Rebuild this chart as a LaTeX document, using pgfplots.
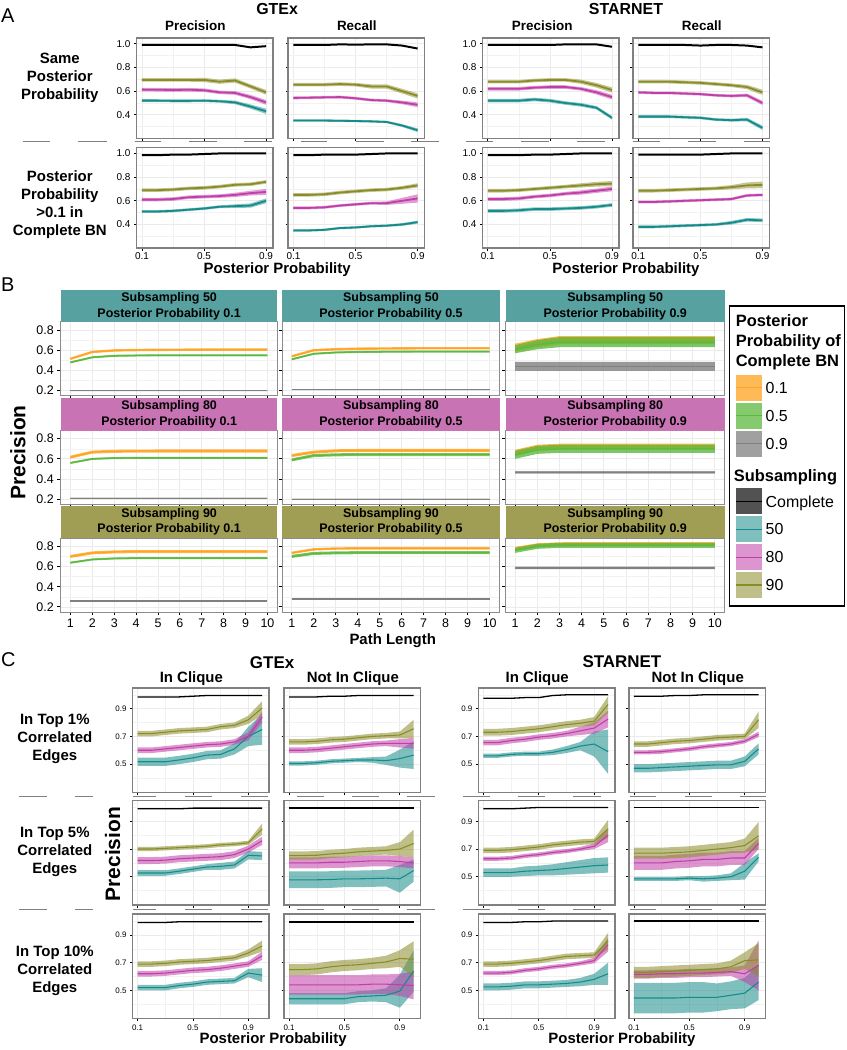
\documentclass[border=0pt]{standalone}
\usepackage{pgfplots}
\pgfplotsset{compat=1.18}
\usepackage{pgfplotstable}
\usepgfplotslibrary{fillbetween}
\usepackage{fontspec}
\setmainfont{Liberation Sans}
\setsansfont{Liberation Sans}
\newcommand\fsz[2]{\fontsize{#1pt}{#2pt}\selectfont}
\definecolor{cT}{RGB}{22,140,138}
\definecolor{cM}{RGB}{192,62,168}
\definecolor{cO}{RGB}{138,140,40}
\definecolor{cOr}{RGB}{255,163,32}
\definecolor{cG}{RGB}{92,184,62}
\definecolor{cGr}{RGB}{128,128,128}
\definecolor{sT}{RGB}{87,162,160}
\definecolor{sM}{RGB}{200,115,180}
\definecolor{sO}{RGB}{160,158,85}
\def\ribop{0.5}
\def\linelayer{main}
\newcommand\ribbonplot[5]{%
 \addplot[draw=none, no markers, name path=U#2, forget plot] table[x=x, y expr=\thisrow{#2}+\thisrow{#3}] {#1};
 \addplot[draw=none, no markers, name path=L#2, forget plot] table[x=x, y expr=\thisrow{#2}-\thisrow{#3}] {#1};
 \addplot[fill=#4, fill opacity=\ribop, draw=none, forget plot] fill between[of=U#2 and L#2];
 \addplot[draw=#4, no markers, line width=#5, forget plot, on layer=\linelayer] table[x=x, y=#2] {#1};
}
\newcommand\panelAC[3]{%
 \ribbonplot{#1}{t}{te}{cT}{#2}
 \ribbonplot{#1}{m}{me}{cM}{#2}
 \ribbonplot{#1}{o}{oe}{cO}{#2}
 \addplot[draw=black, no markers, line width=#3, forget plot] table[x=x, y=k] {#1};
}
\newcommand\panelB[1]{%
 \ribbonplot{#1}{o}{oe}{cOr}{1.3pt}
 \ribbonplot{#1}{g}{ge}{cG}{1.3pt}
 \ribbonplot{#1}{r}{re}{cGr}{1.5pt}
}
% ---------------- Panel A data ----------------
\pgfplotstableread{
x k t te m me o oe
0.1 0.990 0.520 0.012 0.613 0.015 0.695 0.015
0.2 0.990 0.520 0.012 0.612 0.015 0.695 0.015
0.3 0.990 0.518 0.012 0.610 0.015 0.695 0.015
0.4 0.990 0.518 0.012 0.612 0.015 0.695 0.015
0.5 0.990 0.520 0.012 0.608 0.015 0.695 0.018
0.6 0.990 0.515 0.012 0.590 0.015 0.680 0.018
0.7 0.990 0.505 0.015 0.585 0.015 0.690 0.018
0.8 0.970 0.470 0.018 0.550 0.018 0.640 0.018
0.9 0.980 0.430 0.022 0.505 0.020 0.590 0.020
}\AGPa
\pgfplotstableread{
x k t te m me o oe
0.1 0.990 0.352 0.010 0.543 0.012 0.655 0.015
0.2 0.990 0.352 0.010 0.545 0.012 0.655 0.015
0.3 0.990 0.352 0.010 0.548 0.012 0.655 0.015
0.4 0.995 0.350 0.010 0.550 0.012 0.660 0.015
0.5 0.993 0.348 0.010 0.540 0.012 0.655 0.015
0.6 0.995 0.345 0.010 0.525 0.012 0.640 0.018
0.7 0.995 0.340 0.010 0.520 0.012 0.640 0.018
0.8 0.985 0.310 0.012 0.505 0.015 0.600 0.020
0.9 0.960 0.270 0.015 0.485 0.020 0.560 0.022
}\AGRa
\pgfplotstableread{
x k t te m me o oe
0.1 0.985 0.510 0.012 0.610 0.015 0.690 0.015
0.2 0.985 0.510 0.012 0.610 0.015 0.690 0.015
0.3 0.990 0.515 0.012 0.615 0.015 0.695 0.015
0.4 0.990 0.525 0.012 0.630 0.015 0.705 0.015
0.5 0.995 0.535 0.012 0.635 0.015 0.710 0.015
0.6 1.000 0.550 0.012 0.640 0.015 0.720 0.015
0.7 1.000 0.555 0.015 0.650 0.018 0.735 0.015
0.8 1.000 0.560 0.018 0.665 0.020 0.740 0.015
0.9 1.000 0.600 0.020 0.675 0.025 0.760 0.015
}\AGPb
\pgfplotstableread{
x k t te m me o oe
0.1 0.985 0.350 0.010 0.540 0.012 0.650 0.015
0.2 0.985 0.350 0.010 0.540 0.012 0.650 0.015
0.3 0.990 0.355 0.010 0.545 0.012 0.655 0.015
0.4 0.990 0.370 0.010 0.560 0.012 0.670 0.015
0.5 0.990 0.375 0.010 0.570 0.012 0.680 0.015
0.6 0.995 0.385 0.010 0.580 0.012 0.690 0.015
0.7 1.000 0.390 0.010 0.580 0.015 0.695 0.015
0.8 1.000 0.400 0.012 0.600 0.025 0.710 0.015
0.9 1.000 0.420 0.012 0.620 0.035 0.730 0.018
}\AGRb
\pgfplotstableread{
x k t te m me o oe
0.1 0.990 0.520 0.015 0.620 0.015 0.680 0.015
0.2 0.990 0.520 0.015 0.620 0.015 0.680 0.015
0.3 0.990 0.520 0.015 0.620 0.015 0.680 0.015
0.4 0.990 0.530 0.015 0.630 0.015 0.690 0.015
0.5 0.990 0.520 0.015 0.635 0.015 0.695 0.015
0.6 0.995 0.500 0.015 0.635 0.015 0.695 0.015
0.7 0.995 0.485 0.015 0.620 0.015 0.680 0.018
0.8 0.995 0.460 0.015 0.590 0.018 0.650 0.020
0.9 0.975 0.375 0.015 0.550 0.020 0.610 0.022
}\ASPa
\pgfplotstableread{
x k t te m me o oe
0.1 0.990 0.385 0.012 0.590 0.012 0.680 0.015
0.2 0.990 0.385 0.012 0.585 0.012 0.680 0.015
0.3 0.990 0.385 0.012 0.585 0.012 0.680 0.015
0.4 0.990 0.380 0.012 0.580 0.012 0.675 0.015
0.5 0.985 0.375 0.012 0.575 0.012 0.670 0.015
0.6 0.990 0.360 0.012 0.565 0.012 0.660 0.015
0.7 0.990 0.355 0.012 0.560 0.012 0.650 0.015
0.8 0.985 0.360 0.015 0.565 0.015 0.635 0.018
0.9 0.970 0.290 0.018 0.500 0.018 0.590 0.022
}\ASRa
\pgfplotstableread{
x k t te m me o oe
0.1 0.985 0.515 0.015 0.615 0.015 0.685 0.015
0.2 0.985 0.515 0.015 0.615 0.015 0.685 0.015
0.3 0.985 0.520 0.015 0.620 0.015 0.690 0.015
0.4 0.990 0.530 0.015 0.635 0.015 0.700 0.015
0.5 0.990 0.530 0.015 0.645 0.015 0.710 0.015
0.6 0.995 0.535 0.015 0.660 0.015 0.720 0.015
0.7 1.000 0.540 0.015 0.670 0.018 0.730 0.018
0.8 1.000 0.550 0.015 0.685 0.018 0.740 0.020
0.9 1.000 0.565 0.015 0.700 0.020 0.745 0.022
}\ASPb
\pgfplotstableread{
x k t te m me o oe
0.1 0.990 0.380 0.012 0.590 0.012 0.685 0.015
0.2 0.990 0.380 0.012 0.590 0.012 0.685 0.015
0.3 0.990 0.385 0.012 0.595 0.012 0.690 0.015
0.4 0.990 0.390 0.012 0.600 0.012 0.695 0.015
0.5 0.990 0.395 0.012 0.605 0.012 0.700 0.015
0.6 0.995 0.400 0.012 0.610 0.012 0.705 0.015
0.7 1.000 0.415 0.015 0.615 0.012 0.715 0.018
0.8 1.000 0.440 0.015 0.645 0.012 0.730 0.025
0.9 1.000 0.435 0.015 0.650 0.012 0.735 0.028
}\ASRb
% ---------------- Panel B data ----------------
\pgfplotstableread{
x o oe g ge r re
1 0.515 0.012 0.480 0.010 0.200 0.005
2 0.583 0.012 0.530 0.010 0.200 0.005
3 0.598 0.012 0.545 0.010 0.200 0.005
4 0.602 0.012 0.548 0.010 0.200 0.005
5 0.604 0.012 0.550 0.010 0.200 0.005
6 0.605 0.012 0.550 0.010 0.200 0.005
7 0.606 0.012 0.550 0.010 0.200 0.005
8 0.606 0.012 0.550 0.010 0.200 0.005
9 0.606 0.012 0.550 0.010 0.200 0.005
10 0.606 0.012 0.550 0.010 0.200 0.005
}\BAA
\pgfplotstableread{
x o oe g ge r re
1 0.540 0.012 0.510 0.010 0.210 0.005
2 0.600 0.012 0.565 0.010 0.210 0.005
3 0.610 0.012 0.578 0.010 0.210 0.005
4 0.615 0.012 0.583 0.010 0.210 0.005
5 0.617 0.012 0.585 0.010 0.210 0.005
6 0.618 0.012 0.586 0.010 0.210 0.005
7 0.620 0.012 0.587 0.010 0.210 0.005
8 0.620 0.012 0.587 0.010 0.210 0.005
9 0.620 0.012 0.587 0.010 0.210 0.005
10 0.620 0.012 0.587 0.010 0.210 0.005
}\BAB
\pgfplotstableread{
x o oe g ge r re
1 0.625 0.040 0.610 0.040 0.440 0.045
2 0.670 0.040 0.655 0.045 0.440 0.045
3 0.700 0.040 0.680 0.050 0.440 0.045
4 0.700 0.040 0.680 0.050 0.440 0.045
5 0.700 0.040 0.680 0.050 0.440 0.045
6 0.700 0.040 0.680 0.050 0.440 0.045
7 0.700 0.040 0.680 0.050 0.440 0.045
8 0.700 0.040 0.680 0.050 0.440 0.045
9 0.700 0.040 0.680 0.050 0.440 0.045
10 0.700 0.040 0.680 0.050 0.440 0.045
}\BAC
\pgfplotstableread{
x o oe g ge r re
1 0.617 0.015 0.560 0.010 0.210 0.006
2 0.667 0.015 0.600 0.010 0.210 0.006
3 0.675 0.015 0.608 0.010 0.210 0.006
4 0.677 0.015 0.610 0.010 0.210 0.006
5 0.678 0.015 0.610 0.010 0.210 0.006
6 0.678 0.015 0.610 0.010 0.210 0.006
7 0.678 0.015 0.610 0.010 0.210 0.006
8 0.678 0.015 0.610 0.010 0.210 0.006
9 0.678 0.015 0.610 0.010 0.210 0.006
10 0.678 0.015 0.610 0.010 0.210 0.006
}\BBA
\pgfplotstableread{
x o oe g ge r re
1 0.633 0.015 0.590 0.015 0.200 0.006
2 0.667 0.015 0.633 0.015 0.200 0.006
3 0.680 0.015 0.640 0.015 0.200 0.006
4 0.683 0.015 0.643 0.015 0.200 0.006
5 0.683 0.015 0.643 0.015 0.200 0.006
6 0.683 0.015 0.643 0.015 0.200 0.006
7 0.683 0.015 0.643 0.015 0.200 0.006
8 0.683 0.015 0.643 0.015 0.200 0.006
9 0.683 0.015 0.643 0.015 0.200 0.006
10 0.683 0.015 0.643 0.015 0.200 0.006
}\BBB
\pgfplotstableread{
x o oe g ge r re
1 0.660 0.030 0.640 0.040 0.467 0.012
2 0.710 0.030 0.690 0.040 0.467 0.012
3 0.720 0.030 0.700 0.040 0.467 0.012
4 0.722 0.030 0.700 0.040 0.467 0.012
5 0.722 0.030 0.700 0.040 0.467 0.012
6 0.722 0.030 0.700 0.040 0.467 0.012
7 0.722 0.030 0.700 0.040 0.467 0.012
8 0.722 0.030 0.700 0.040 0.467 0.012
9 0.722 0.030 0.700 0.040 0.467 0.012
10 0.722 0.030 0.700 0.040 0.467 0.012
}\BBC
\pgfplotstableread{
x o oe g ge r re
1 0.700 0.015 0.638 0.010 0.258 0.004
2 0.735 0.015 0.670 0.010 0.258 0.004
3 0.745 0.015 0.680 0.010 0.258 0.004
4 0.748 0.015 0.683 0.010 0.258 0.004
5 0.748 0.015 0.683 0.010 0.258 0.004
6 0.748 0.015 0.683 0.010 0.258 0.004
7 0.748 0.015 0.683 0.010 0.258 0.004
8 0.748 0.015 0.683 0.010 0.258 0.004
9 0.748 0.015 0.683 0.010 0.258 0.004
10 0.748 0.015 0.683 0.010 0.258 0.004
}\BCA
\pgfplotstableread{
x o oe g ge r re
1 0.735 0.012 0.700 0.015 0.280 0.006
2 0.770 0.012 0.730 0.015 0.280 0.006
3 0.778 0.012 0.735 0.015 0.280 0.006
4 0.780 0.012 0.737 0.015 0.280 0.006
5 0.780 0.012 0.737 0.015 0.280 0.006
6 0.780 0.012 0.737 0.015 0.280 0.006
7 0.780 0.012 0.737 0.015 0.280 0.006
8 0.780 0.012 0.737 0.015 0.280 0.006
9 0.780 0.012 0.737 0.015 0.280 0.006
10 0.780 0.012 0.737 0.015 0.280 0.006
}\BCB
\pgfplotstableread{
x o oe g ge r re
1 0.775 0.020 0.760 0.025 0.587 0.012
2 0.810 0.020 0.800 0.025 0.587 0.012
3 0.820 0.020 0.810 0.025 0.587 0.012
4 0.822 0.020 0.810 0.025 0.587 0.012
5 0.822 0.020 0.810 0.025 0.587 0.012
6 0.822 0.020 0.810 0.025 0.587 0.012
7 0.822 0.020 0.810 0.025 0.587 0.012
8 0.822 0.020 0.810 0.025 0.587 0.012
9 0.822 0.020 0.810 0.025 0.587 0.012
10 0.822 0.020 0.810 0.025 0.587 0.012
}\BCC
% ---------------- Panel C data ----------------
\pgfplotstableread{
x k t te m me o oe
0.1 0.985 0.517 0.030 0.600 0.020 0.720 0.020
0.2 0.985 0.517 0.030 0.600 0.020 0.720 0.020
0.3 0.985 0.517 0.030 0.610 0.020 0.730 0.020
0.4 0.985 0.530 0.030 0.620 0.020 0.740 0.020
0.5 0.990 0.545 0.030 0.630 0.020 0.745 0.020
0.6 0.995 0.565 0.030 0.640 0.020 0.750 0.020
0.7 0.995 0.570 0.030 0.645 0.020 0.770 0.020
0.8 0.995 0.610 0.040 0.660 0.020 0.780 0.020
0.9 0.995 0.700 0.070 0.700 0.030 0.820 0.030
1.0 0.995 0.750 0.110 0.840 0.040 0.905 0.050
}\CGAi
\pgfplotstableread{
x k t te m me o oe
0.1 0.985 0.505 0.015 0.600 0.020 0.660 0.020
0.2 0.985 0.505 0.015 0.600 0.020 0.660 0.020
0.3 0.985 0.510 0.015 0.605 0.020 0.665 0.020
0.4 0.990 0.520 0.015 0.615 0.020 0.675 0.020
0.5 0.990 0.525 0.015 0.625 0.020 0.680 0.020
0.6 0.995 0.530 0.015 0.635 0.020 0.690 0.020
0.7 0.995 0.530 0.020 0.645 0.020 0.700 0.020
0.8 0.995 0.525 0.030 0.650 0.020 0.705 0.020
0.9 0.995 0.540 0.065 0.650 0.030 0.710 0.025
1.0 0.995 0.565 0.100 0.650 0.040 0.755 0.065
}\CGAo
\pgfplotstableread{
x k t te m me o oe
0.1 0.990 0.527 0.020 0.617 0.025 0.700 0.015
0.2 0.990 0.527 0.020 0.617 0.025 0.700 0.015
0.3 0.990 0.527 0.020 0.620 0.025 0.705 0.015
0.4 0.990 0.540 0.020 0.630 0.025 0.710 0.015
0.5 0.995 0.555 0.020 0.635 0.025 0.715 0.015
0.6 0.995 0.570 0.020 0.640 0.025 0.720 0.015
0.7 0.995 0.575 0.025 0.645 0.025 0.730 0.015
0.8 0.995 0.585 0.025 0.660 0.025 0.735 0.015
0.9 0.995 0.655 0.030 0.700 0.025 0.745 0.015
1.0 0.995 0.650 0.030 0.760 0.030 0.845 0.040
}\CGBi
\pgfplotstableread{
x k t te m me o oe
0.1 0.995 0.478 0.060 0.600 0.040 0.653 0.030
0.2 0.995 0.478 0.060 0.600 0.040 0.653 0.030
0.3 0.995 0.478 0.060 0.600 0.040 0.655 0.030
0.4 0.995 0.480 0.060 0.605 0.040 0.665 0.030
0.5 0.995 0.485 0.060 0.605 0.040 0.670 0.030
0.6 0.995 0.485 0.060 0.610 0.040 0.680 0.030
0.7 0.995 0.487 0.060 0.615 0.040 0.685 0.030
0.8 0.995 0.490 0.060 0.615 0.040 0.690 0.030
0.9 0.995 0.485 0.100 0.610 0.040 0.700 0.050
1.0 0.995 0.545 0.080 0.600 0.040 0.740 0.100
}\CGBo
\pgfplotstableread{
x k t te m me o oe
0.1 0.990 0.520 0.020 0.620 0.020 0.690 0.020
0.2 0.990 0.520 0.020 0.620 0.020 0.690 0.020
0.3 0.990 0.520 0.020 0.625 0.020 0.695 0.020
0.4 0.995 0.535 0.020 0.635 0.020 0.705 0.020
0.5 0.995 0.545 0.020 0.645 0.020 0.710 0.020
0.6 0.995 0.560 0.020 0.650 0.020 0.715 0.020
0.7 0.995 0.565 0.020 0.660 0.020 0.725 0.020
0.8 0.995 0.570 0.020 0.675 0.020 0.735 0.020
0.9 0.995 0.625 0.030 0.690 0.020 0.770 0.025
1.0 0.995 0.610 0.050 0.750 0.030 0.820 0.040
}\CGCi
\pgfplotstableread{
x k t te m me o oe
0.1 0.995 0.440 0.040 0.540 0.070 0.650 0.040
0.2 0.995 0.440 0.040 0.540 0.070 0.650 0.040
0.3 0.995 0.440 0.040 0.540 0.070 0.655 0.040
0.4 0.995 0.440 0.040 0.540 0.070 0.670 0.040
0.5 0.995 0.440 0.040 0.540 0.070 0.680 0.040
0.6 0.995 0.455 0.040 0.540 0.070 0.685 0.040
0.7 0.995 0.460 0.040 0.545 0.070 0.695 0.040
0.8 0.995 0.465 0.050 0.545 0.070 0.705 0.045
0.9 0.995 0.495 0.120 0.540 0.080 0.730 0.060
1.0 0.995 0.640 0.150 0.535 0.100 0.725 0.130
}\CGCo
\pgfplotstableread{
x k t te m me o oe
0.1 0.975 0.560 0.015 0.655 0.020 0.730 0.025
0.2 0.975 0.560 0.015 0.655 0.020 0.730 0.025
0.3 0.975 0.570 0.015 0.670 0.020 0.735 0.025
0.4 0.980 0.575 0.015 0.680 0.020 0.745 0.025
0.5 0.980 0.575 0.015 0.695 0.020 0.755 0.025
0.6 0.995 0.585 0.020 0.705 0.020 0.770 0.025
0.7 1.000 0.605 0.025 0.720 0.020 0.785 0.025
0.8 1.000 0.630 0.030 0.740 0.030 0.795 0.025
0.9 1.000 0.645 0.090 0.760 0.040 0.810 0.030
1.0 1.000 0.590 0.160 0.825 0.060 0.930 0.060
}\CSAi
\pgfplotstableread{
x k t te m me o oe
0.1 0.990 0.470 0.030 0.585 0.015 0.645 0.020
0.2 0.990 0.470 0.030 0.585 0.015 0.645 0.020
0.3 0.990 0.475 0.030 0.590 0.015 0.655 0.020
0.4 0.995 0.480 0.030 0.600 0.015 0.665 0.020
0.5 0.995 0.485 0.030 0.610 0.015 0.670 0.020
0.6 1.000 0.490 0.030 0.625 0.015 0.680 0.020
0.7 1.000 0.495 0.030 0.635 0.015 0.690 0.020
0.8 1.000 0.495 0.030 0.645 0.015 0.695 0.020
0.9 1.000 0.520 0.035 0.665 0.015 0.700 0.020
1.0 1.000 0.610 0.040 0.715 0.020 0.820 0.060
}\CSAo
\pgfplotstableread{
x k t te m me o oe
0.1 0.990 0.530 0.030 0.630 0.015 0.690 0.020
0.2 0.990 0.530 0.030 0.630 0.015 0.690 0.020
0.3 0.990 0.530 0.030 0.635 0.015 0.695 0.020
0.4 0.995 0.540 0.035 0.650 0.015 0.705 0.020
0.5 1.000 0.545 0.035 0.660 0.015 0.715 0.020
0.6 1.000 0.550 0.040 0.675 0.015 0.730 0.020
0.7 1.000 0.560 0.045 0.685 0.015 0.740 0.020
0.8 1.000 0.570 0.050 0.700 0.015 0.750 0.020
0.9 1.000 0.580 0.055 0.720 0.020 0.755 0.020
1.0 1.000 0.585 0.055 0.800 0.050 0.845 0.065
}\CSBi
\pgfplotstableread{
x k t te m me o oe
0.1 1.000 0.485 0.015 0.600 0.050 0.670 0.040
0.2 1.000 0.485 0.015 0.600 0.050 0.670 0.040
0.3 1.000 0.485 0.015 0.600 0.050 0.670 0.040
0.4 1.000 0.485 0.015 0.610 0.050 0.675 0.040
0.5 1.000 0.490 0.015 0.615 0.050 0.680 0.040
0.6 1.000 0.485 0.020 0.625 0.050 0.690 0.040
0.7 1.000 0.490 0.020 0.625 0.050 0.700 0.040
0.8 1.000 0.500 0.025 0.635 0.050 0.710 0.040
0.9 1.000 0.540 0.060 0.635 0.050 0.725 0.050
1.0 1.000 0.640 0.030 0.740 0.040 0.795 0.100
}\CSBo
\pgfplotstableread{
x k t te m me o oe
0.1 0.990 0.525 0.025 0.625 0.015 0.690 0.020
0.2 0.990 0.525 0.025 0.625 0.015 0.690 0.020
0.3 0.990 0.530 0.025 0.630 0.015 0.695 0.020
0.4 0.995 0.540 0.025 0.645 0.015 0.705 0.020
0.5 0.995 0.540 0.025 0.655 0.015 0.715 0.020
0.6 1.000 0.545 0.025 0.670 0.015 0.730 0.020
0.7 1.000 0.550 0.025 0.680 0.015 0.745 0.020
0.8 1.000 0.560 0.030 0.695 0.015 0.750 0.020
0.9 1.000 0.580 0.040 0.715 0.020 0.755 0.020
1.0 1.000 0.620 0.080 0.830 0.050 0.855 0.060
}\CSCi
\pgfplotstableread{
x k t te m me o oe
0.1 1.000 0.445 0.110 0.615 0.030 0.630 0.040
0.2 1.000 0.445 0.110 0.615 0.030 0.630 0.040
0.3 1.000 0.445 0.110 0.620 0.030 0.635 0.040
0.4 1.000 0.445 0.110 0.620 0.030 0.640 0.040
0.5 1.000 0.450 0.110 0.625 0.030 0.645 0.040
0.6 1.000 0.450 0.110 0.625 0.030 0.650 0.040
0.7 1.000 0.450 0.100 0.630 0.030 0.655 0.040
0.8 1.000 0.465 0.100 0.635 0.030 0.670 0.045
0.9 1.000 0.480 0.110 0.620 0.060 0.715 0.060
1.0 1.000 0.560 0.130 0.680 0.180 0.720 0.120
}\CSCo
\pgfplotsset{
 base/.style={scale only axis, set layers, anchor=north west, tick pos=left, tick align=outside, no markers,
   axis line style={draw=black!50, line width=1.6pt},
   grid=both, major grid style={line width=0.8pt, black!8}, minor grid style={line width=0.5pt, black!5},
   minor tick length=0pt, major tick length=2.5pt, tick style={black, line width=0.8pt}},
 pa/.style={base, width=137pt, height=101pt, xmin=0.065, xmax=0.945, ymin=0.2, ymax=1.05,
   xtick={0.1,0.5,0.9}, xticklabels={0.1,0.5,0.9}, minor xtick={0.3,0.7},
   ytick={0.4,0.6,0.8,1.0}, yticklabels={0.4,0.6,0.8,1.0}, minor ytick={0.3,0.5,0.7,0.9},
   tick label style={font=\fsz{10}{12}}, xticklabel style={inner sep=1.5pt}},
 pb/.style={base, width=218pt, height=74pt, xmin=0.56, xmax=10.44, ymin=0.15, ymax=0.88,
   xtick={1,2,3,4,5,6,7,8,9,10}, xticklabels={1,2,3,4,5,6,7,8,9,10},
   ytick={0.2,0.4,0.6,0.8}, yticklabels={0.2,0.4,0.6,0.8}, minor ytick={0.3,0.5,0.7},
   axis line style={draw=black!45, line width=0.9pt}, major tick length=3.5pt,
   tick style={black, line width=1pt}, tick label style={font=\fsz{12.5}{14}}},
 pc/.style={base, width=137pt, height=105pt, xmin=0.064, xmax=1.05, ymin=0.296, ymax=1.051,
   xtick={0.1,0.5,0.9}, xticklabels={0.1,0.5,0.9}, minor xtick={0.3,0.7},
   ytick={0.5,0.7,0.9}, yticklabels={0.5,0.7,0.9}, minor ytick={0.4,0.6,0.8,1.0},
   tick label style={font=\fsz{8}{10}}},
}
\begin{document}
\begin{tikzpicture}
\path (0pt,0pt) rectangle (849pt,-1050pt);
% ================= Panel A =================
\def\ribop{0.5}
\begin{axis}[pa, at={(137pt,-37pt)}, xticklabels={}] \panelAC{\AGPa}{1.8pt}{2pt} \end{axis}
\begin{axis}[pa, at={(289pt,-37pt)}, xticklabels={}, yticklabels={}] \panelAC{\AGRa}{1.8pt}{2pt} \end{axis}
\begin{axis}[pa, at={(484pt,-37pt)}, xticklabels={}] \panelAC{\ASPa}{1.8pt}{2pt} \end{axis}
\begin{axis}[pa, at={(635pt,-37pt)}, xticklabels={}, yticklabels={}] \panelAC{\ASRa}{1.8pt}{2pt} \end{axis}
\begin{axis}[pa, at={(137pt,-147pt)}] \panelAC{\AGPb}{1.8pt}{2pt} \end{axis}
\begin{axis}[pa, at={(289pt,-147pt)}, yticklabels={}] \panelAC{\AGRb}{1.8pt}{2pt} \end{axis}
\begin{axis}[pa, at={(484pt,-147pt)}] \panelAC{\ASPb}{1.8pt}{2pt} \end{axis}
\begin{axis}[pa, at={(635pt,-147pt)}, yticklabels={}] \panelAC{\ASRb}{1.8pt}{2pt} \end{axis}
\node[font=\fsz{20}{24}, anchor=west, inner sep=0] at (1pt,-15pt) {A};
\node[font=\bfseries\fsz{16}{19}] at (278pt,-8pt) {GTEx};
\node[font=\bfseries\fsz{16}{19}] at (628pt,-8pt) {STARNET};
\node[font=\bfseries\fsz{13.5}{16}] at (196pt,-25pt) {Precision};
\node[font=\bfseries\fsz{13.5}{16}] at (358pt,-25pt) {Recall};
\node[font=\bfseries\fsz{13.5}{16}] at (544pt,-25pt) {Precision};
\node[font=\bfseries\fsz{13.5}{16}] at (704pt,-25pt) {Recall};
\node[font=\bfseries\fsz{15}{18}, align=center] at (60pt,-77pt) {Same\\Posterior\\Probability};
\node[font=\bfseries\fsz{15}{18}, align=center] at (60pt,-204pt) {Posterior\\Probability\\>0.1 in\\Complete BN};
\node[font=\bfseries\fsz{15}{18}, anchor=base] at (278pt,-273pt) {Posterior Probability};
\node[font=\bfseries\fsz{15}{18}, anchor=base] at (628pt,-273pt) {Posterior Probability};
\foreach \a/\b in {23/50,78/107,135/162,190/218,245/273,302/328,357/385,412/440,468/495,523/551,579/607,635/662,690/718,746/773}
  \draw[black!50, line width=1pt] (\a pt,-141pt) -- (\b pt,-141pt);
% ================= Panel B =================
\def\ribop{0.8}
\def\linelayer{pre main}
\begin{axis}[pb, at={(61pt,-322pt)}, width=217pt, xticklabels={}] \panelB{\BAA} \end{axis}
\begin{axis}[pb, at={(283pt,-322pt)}, xticklabels={}, yticklabels={}] \panelB{\BAB} \end{axis}
\begin{axis}[pb, at={(507pt,-322pt)}, width=220pt, xticklabels={}, yticklabels={}] \panelB{\BAC} \end{axis}
\begin{axis}[pb, at={(61pt,-431pt)}, width=217pt, xticklabels={}] \panelB{\BBA} \end{axis}
\begin{axis}[pb, at={(283pt,-431pt)}, xticklabels={}, yticklabels={}] \panelB{\BBB} \end{axis}
\begin{axis}[pb, at={(507pt,-431pt)}, width=220pt, xticklabels={}, yticklabels={}] \panelB{\BBC} \end{axis}
\begin{axis}[pb, at={(61pt,-539pt)}, width=217pt] \panelB{\BCA} \end{axis}
\begin{axis}[pb, at={(283pt,-539pt)}, yticklabels={}] \panelB{\BCB} \end{axis}
\begin{axis}[pb, at={(507pt,-539pt)}, width=220pt, yticklabels={}] \panelB{\BCC} \end{axis}
\def\linelayer{main}
\tikzset{strip/.style={anchor=north west, minimum height=32pt, inner sep=0, align=center, font=\bfseries\fsz{12.5}{15.5}}}
\node[strip, fill=sT, minimum width=217pt] at (61pt,-290pt) {Subsampling 50\\Posterior Probability 0.1};
\node[strip, fill=sT, minimum width=218pt] at (283pt,-290pt) {Subsampling 50\\Posterior Probability 0.5};
\node[strip, fill=sT, minimum width=220pt] at (507pt,-290pt) {Subsampling 50\\Posterior Probability 0.9};
\node[strip, fill=sM, minimum width=217pt, minimum height=33pt] at (61pt,-398pt) {Subsampling 80\\Posterior Proability 0.1};
\node[strip, fill=sM, minimum width=218pt, minimum height=33pt] at (283pt,-398pt) {Subsampling 80\\Posterior Probability 0.5};
\node[strip, fill=sM, minimum width=220pt, minimum height=33pt] at (507pt,-398pt) {Subsampling 80\\Posterior Probability 0.9};
\node[strip, fill=sO, minimum width=217pt, minimum height=33pt] at (61pt,-506pt) {Subsampling 90\\Posterior Probability 0.1};
\node[strip, fill=sO, minimum width=218pt, minimum height=33pt] at (283pt,-506pt) {Subsampling 90\\Posterior Probability 0.5};
\node[strip, fill=sO, minimum width=220pt, minimum height=33pt] at (507pt,-506pt) {Subsampling 90\\Posterior Probability 0.9};
\node[font=\fsz{20}{24}, anchor=west, inner sep=0] at (1pt,-285pt) {B};
\node[font=\bfseries\fsz{21}{25}, rotate=90] at (18pt,-453pt) {Precision};
\node[font=\bfseries\fsz{15}{18}, anchor=base] at (394pt,-646pt) {Path Length};
% legend
\draw[black, line width=1.3pt] (732pt,-306pt) rectangle (847pt,-607pt);
\node[font=\bfseries\fsz{16.5}{20}, anchor=base west, inner sep=0] at (738pt,-327pt) {Posterior};
\node[font=\bfseries\fsz{16.5}{20}, anchor=base west, inner sep=0] at (738pt,-347pt) {Probability of};
\node[font=\bfseries\fsz{16.5}{20}, anchor=base west, inner sep=0] at (738pt,-367pt) {Complete BN};
\node[font=\bfseries\fsz{16.5}{20}, anchor=base west, inner sep=0] at (736pt,-482pt) {Subsampling};
\foreach \y/\c/\f/\t in {388/cOr/cOr!75/0.1, 416/cG/cG!75/0.5, 444/cGr/cGr!75/0.9, 502/black/black!68/Complete, 530/cT/cT!55/50, 558/cM/cM!55/80, 586/cO/cO!55/90}{
  \fill[\f] (738pt,-\y pt+13pt) rectangle (764pt,-\y pt-13pt);
  \draw[\c, line width=1.3pt] (738pt,-\y pt) -- (764pt,-\y pt);
  \node[font=\fsz{16}{19}, anchor=base west, inner sep=0] at (768pt,-\y pt-5.7pt) {\t};
}
% ================= Panel C =================
\def\ribop{0.55}
\begin{axis}[pc, at={(133pt,-689pt)}, xticklabels={}] \panelAC{\CGAi}{1.1pt}{1.3pt} \end{axis}
\begin{axis}[pc, at={(285pt,-689pt)}, xticklabels={}, yticklabels={}] \panelAC{\CGAo}{1.1pt}{1.3pt} \end{axis}
\begin{axis}[pc, at={(480pt,-689pt)}, xticklabels={}] \panelAC{\CSAi}{1.1pt}{1.3pt} \end{axis}
\begin{axis}[pc, at={(631pt,-689pt)}, xticklabels={}, yticklabels={}] \panelAC{\CSAo}{1.1pt}{1.3pt} \end{axis}
\begin{axis}[pc, at={(133pt,-802pt)}, xticklabels={}, yticklabels={}] \panelAC{\CGBi}{1.1pt}{1.3pt} \end{axis}
\begin{axis}[pc, at={(285pt,-802pt)}, xticklabels={}, yticklabels={}] \panelAC{\CGBo}{1.1pt}{1.3pt} \end{axis}
\begin{axis}[pc, at={(480pt,-802pt)}, xticklabels={}] \panelAC{\CSBi}{1.1pt}{1.3pt} \end{axis}
\begin{axis}[pc, at={(631pt,-802pt)}, xticklabels={}, yticklabels={}] \panelAC{\CSBo}{1.1pt}{1.3pt} \end{axis}
\begin{axis}[pc, at={(133pt,-916pt)}] \panelAC{\CGCi}{1.1pt}{1.3pt} \end{axis}
\begin{axis}[pc, at={(285pt,-916pt)}, yticklabels={}] \panelAC{\CGCo}{1.1pt}{1.6pt} \end{axis}
\begin{axis}[pc, at={(480pt,-916pt)}] \panelAC{\CSCi}{1.1pt}{1.3pt} \end{axis}
\begin{axis}[pc, at={(631pt,-916pt)}, yticklabels={}] \panelAC{\CSCo}{1.1pt}{1.6pt} \end{axis}
\node[font=\fsz{20}{24}, anchor=west, inner sep=0] at (1pt,-661pt) {C};
\node[font=\bfseries\fsz{17}{20}] at (273pt,-664pt) {GTEx};
\node[font=\bfseries\fsz{17}{20}] at (624pt,-663pt) {STARNET};
\node[font=\bfseries\fsz{15}{18}, anchor=base] at (192pt,-684pt) {In Clique};
\node[font=\bfseries\fsz{15}{18}, anchor=base] at (354pt,-684pt) {Not In Clique};
\node[font=\bfseries\fsz{15}{18}, anchor=base] at (539pt,-684pt) {In Clique};
\node[font=\bfseries\fsz{15}{18}, anchor=base] at (700pt,-684pt) {Not In Clique};
\node[font=\bfseries\fsz{15}{18}, align=center] at (55pt,-740pt) {In Top 1\%\\Correlated\\Edges};
\node[font=\bfseries\fsz{15}{18}, align=center] at (55pt,-854pt) {In Top 5\%\\Correlated\\Edges};
\node[font=\bfseries\fsz{15}{18}, align=center] at (55pt,-973pt) {In Top 10\%\\Correlated\\Edges};
\node[font=\bfseries\fsz{21}{25}, rotate=90] at (113pt,-856pt) {Precision};
\node[font=\bfseries\fsz{15}{18}, anchor=base] at (274pt,-1046pt) {Posterior Probability};
\node[font=\bfseries\fsz{15}{18}, anchor=base] at (624pt,-1046pt) {Posterior Probability};
\foreach \a/\b in {19/47,75/93,133/157,186/213,242/269,298/325,353/380,408/436,465/492,520/547,575/603,632/658,687/714,742/769}{
  \draw[black!50, line width=1pt] (\a pt,-798pt) -- (\b pt,-798pt);
  \draw[black!50, line width=1pt] (\a pt,-911pt) -- (\b pt,-911pt);
}
\end{tikzpicture}
\end{document}
